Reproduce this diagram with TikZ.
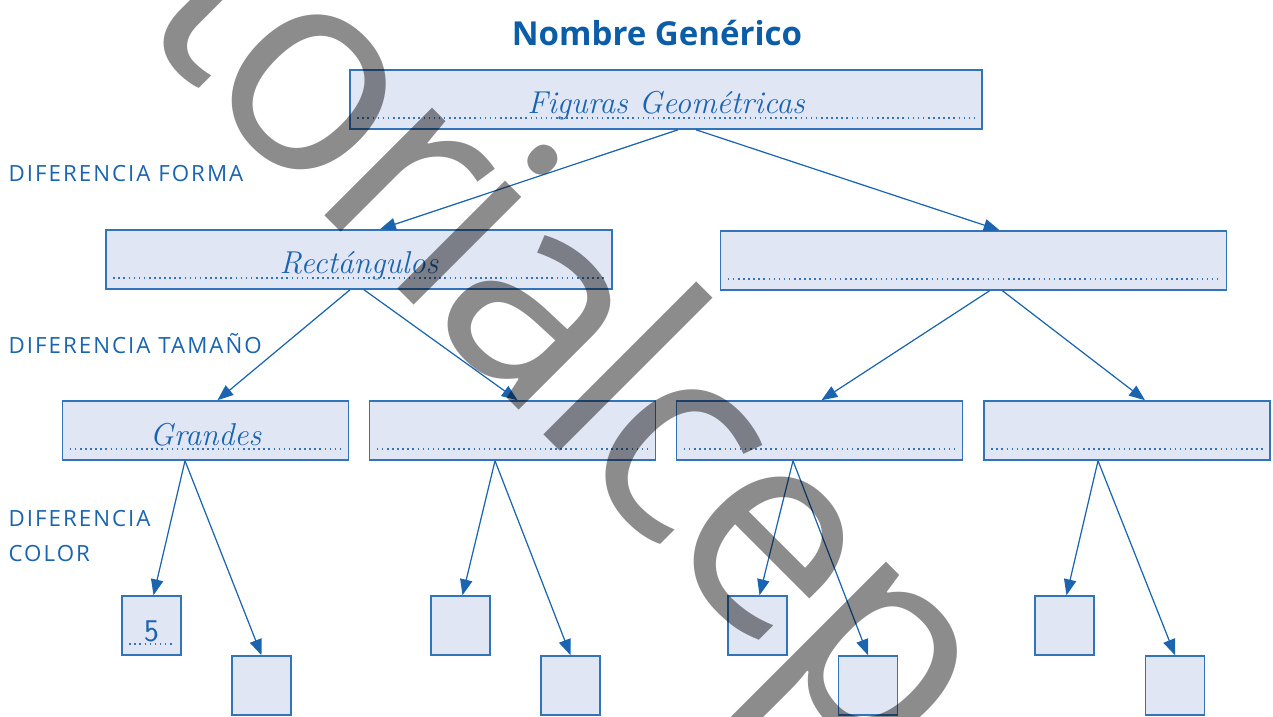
\documentclass[tikz,border=0pt]{standalone}
\usepackage{fontspec}
\newfontfamily\cabecera{Open Sans}
\newfontfamily\rotulo{Open Sans}[LetterSpace=9]
\newfontfamily\marcaagua{Open Sans}[LetterSpace=-4.2]
\usetikzlibrary{positioning, arrows.meta, calc}

\definecolor{azul}{HTML}{1A64B0}
\definecolor{titulo}{HTML}{0C5DA8}
\definecolor{borde}{HTML}{3274BA}
\definecolor{relleno}{HTML}{E1E6F5}

\begin{document}
\begin{tikzpicture}[
    x=0.02cm, y=-0.02cm,
    ->, >={Triangle[length=9pt,width=7pt]},
    line width=0.7pt, color=azul,
    caja/.style={draw=borde, fill=relleno, line width=0.9pt, inner sep=0pt,
        minimum height=1.18cm, text height=0.88cm, text depth=0.3cm,
        font=\fontsize{18}{18}\selectfont\itshape, text=azul},
    cuadro/.style={caja, minimum width=1.18cm},
    nivel/.style={font=\rotulo\fontsize{12.7}{12.7}\selectfont, text=azul,
        anchor=base west, inner sep=0pt},
    puntos/.style={-, draw=borde, dotted, line width=0.9pt},
    marca/.style={font=\marcaagua\fontsize{162}{162}\selectfont, text=black,
        text opacity=0.45, rotate=-45, anchor=base west, inner sep=0pt}
]
    \useasboundingbox (0,0) rectangle (1273,716);

    % titulo
    \node[font=\cabecera\bfseries\fontsize{18.8}{18.8}\selectfont, text=titulo, anchor=base]
        (titulo) at (657,46) {Nombre Genérico};

    % cajas de los niveles
    \node[caja, minimum width=12.64cm] (fig) at (666,99.5) {Figuras Geométricas};
    \node[caja, minimum width=10.12cm] (rect) at (359,259.5) {Rectángulos};
    \node[caja, minimum width=10.12cm] (otra) at (973.5,260.5) {};

    \foreach \i/\cx/\txt in {1/205.5/Grandes, 2/512.5/, 3/819.5/, 4/1127/} {
        \node[caja, minimum width=5.72cm] (t\i) at (\cx,430.5) {\txt};
    }

    % cuadrados de color
    \foreach \i/\ax/\bx in {1/151.5/261.5, 2/460.5/570.5, 3/757.5/868, 4/1064.5/1175} {
        \node[cuadro] (a\i) at (\ax,625.5) {};
        \node[cuadro] (b\i) at (\bx,685.5) {};
    }
    \node[font=\sffamily\fontsize{18}{18}\selectfont, text=azul, anchor=base, inner sep=0pt]
        (cinco) at ($(a1.south)+(0,-14)$) {5};

    % lineas de puntos
    \foreach \n in {fig, rect, otra, t1, t2, t3, t4, a1} {
        \draw[puntos] ($(\n.south west)+(8,-12)$) -- ($(\n.south east)+(-8,-12)$);
    }

    % etiquetas
    \node[nivel] (forma) at (8,182) {DIFERENCIA FORMA};
    \node[nivel] (tamano) at (8,353) {DIFERENCIA TAMAÑO};
    \node[nivel] (color1) at (8,526) {DIFERENCIA};
    \node[nivel] (color2) at (8,561) {COLOR};

    % flechas
    \path ($(fig.south)+(12,0)$) edge ($(rect.north)+(21,0)$)
          ($(fig.south)+(30,0)$) edge ($(otra.north)+(26,0)$)
          ($(rect.south)+(-9,0)$) edge ($(t1.north)+(12,0)$)
          ($(rect.south)+(5,0)$) edge ($(t2.north)+(5,0)$)
          ($(otra.south)+(16,0)$) edge ($(t3.north)+(2,0)$)
          ($(otra.south)+(29,0)$) edge ($(t4.north)+(18,0)$);

    \foreach \i/\dx in {1/-20.5, 2/-17.5, 3/-26.5, 4/-29} {
        \path ($(t\i.south)+(\dx,0)$) edge ($(a\i.north)+(2,0)$)
              ($(t\i.south)+(\dx,0)$) edge (b\i.north);
    }

    % marca de agua
    \begin{scope}
        \clip (0,0) rectangle (1273,716);
        \node[marca] (agua) at (131,22) {torialcep};
    \end{scope}

\end{tikzpicture}
\end{document}
